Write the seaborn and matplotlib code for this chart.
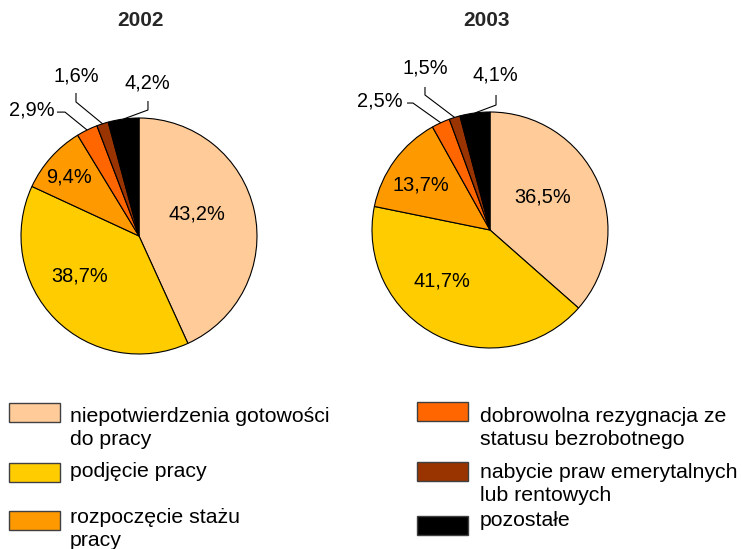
import numpy as np
import seaborn as sns
import matplotlib.pyplot as plt
from matplotlib.patches import Rectangle

# data
years = ['2002', '2003']
categories = ['niepotwierdzenia gotowości\ndo pracy',
              'podjęcie pracy',
              'rozpoczęcie stażu\npracy',
              'dobrowolna rezygnacja ze\nstatusu bezrobotnego',
              'nabycie praw emerytalnych\nlub rentowych',
              'pozostałe']
values_2002 = [43.2, 38.7, 9.4, 2.9, 1.6, 4.2]
values_2003 = [36.5, 41.7, 13.7, 2.5, 1.5, 4.1]
colors = ['#FFCC99', '#FFCC00', '#FF9900', '#FF6600', '#993300', '#000000']

sns.set_theme(style='white')
plt.rcParams['font.family'] = ['Liberation Sans', 'DejaVu Sans']

W, H = 742, 549
fig = plt.figure(figsize=(W / 100, H / 100), dpi=100)
palette = sns.color_palette(colors)

# layout (pixels): pie centre, radius, title position
pies = [
    dict(values=values_2002, cx=139, cy=236, r=118, title_xy=(140, 21),
         inner=[(0.49, 0.186), (-0.504, -0.337), (-0.593, 0.503)],
         outer=[(-0.907, 1.068), (-0.534, 1.356), (0.068, 1.30)],
         elbows=[[(-0.695, 1.05), (-0.627, 1.05)],
                 [(-0.534, 1.212), (-0.534, 1.136)],
                 [(0.076, 1.144), (0.076, 1.068)]]),
    dict(values=values_2003, cx=490, cy=230, r=118, title_xy=(486, 21),
         inner=[(0.449, 0.28), (-0.407, -0.43), (-0.585, 0.381)],
         outer=[(-0.932, 1.093), (-0.551, 1.369), (0.042, 1.314)],
         elbows=[[(-0.703, 1.076), (-0.653, 1.076)],
                 [(-0.551, 1.212), (-0.551, 1.144)],
                 [(0.051, 1.144), (0.051, 1.059)]]),
]

L = 1.35
for year, p in zip(years, pies):
    cx, cy, r = p['cx'], p['cy'], p['r']
    ax = fig.add_axes([(cx - L * r) / W, 1 - (cy + L * r) / H, 2 * L * r / W, 2 * L * r / H])
    wedges, _ = ax.pie(p['values'], colors=palette, startangle=90, counterclock=False,
                       wedgeprops=dict(edgecolor='black', linewidth=0.8))
    ax.set_xlim(-L, L)
    ax.set_ylim(-L, L)
    ax.patch.set_visible(False)

    labels = [f'{v:.1f}%'.replace('.', ',') for v in p['values']]
    for i, (x, y) in enumerate(p['inner']):
        ax.text(x, y, labels[i], ha='center', va='center', fontsize=14.4, color='black')
    for k, (x, y) in enumerate(p['outer']):
        i = k + 3
        ax.text(x, y, labels[i], ha='center', va='center', fontsize=14.4, color='black')
        w = wedges[i]
        mid = np.deg2rad((w.theta1 + w.theta2) / 2)
        pts = p['elbows'][k] + [(np.cos(mid), np.sin(mid))]
        ax.plot([q[0] for q in pts], [q[1] for q in pts], color='black', lw=0.8,
                clip_on=False, solid_capstyle='butt')

    tx, ty = p['title_xy']
    fig.text(tx / W, 1 - ty / H, year, ha='center', va='center',
             fontsize=15, fontweight='bold')

# legend drawn in pixel space
lax = fig.add_axes([0, 0, 1, 1])
lax.set_xlim(0, W)
lax.set_ylim(H, 0)
lax.axis('off')

legend_cols = [(9, 70), (417, 480)]
legend_rows = [[(403, 422), (463, 477), (511, 523)],
               [(402, 422), (462, 478), (516, 526)]]
line_step = 23
for c, (px, tx) in enumerate(legend_cols):
    for rr, (top, base) in enumerate(legend_rows[c]):
        i = c * 3 + rr
        lax.add_patch(Rectangle((px, top), 51, 19, facecolor=palette[i],
                                edgecolor='#404040', linewidth=1))
        for j, line in enumerate(categories[i].split('\n')):
            lax.text(tx, base + j * line_step, line, ha='left', va='baseline',
                     fontsize=15.3, color='black')

fig.savefig('out.png', dpi=100, facecolor='white')
